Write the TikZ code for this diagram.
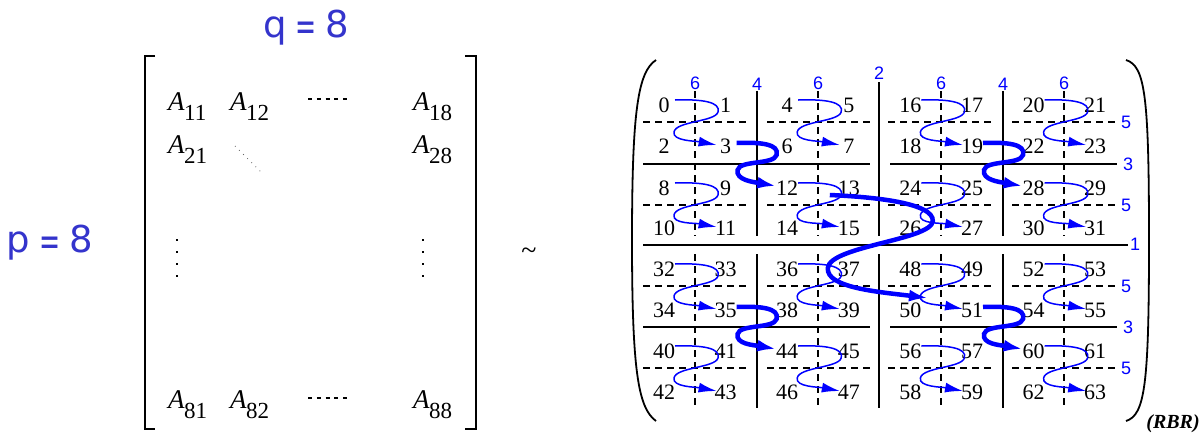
\documentclass[tikz,border=0pt]{standalone}
\usepackage{fontspec}
\setmainfont{Liberation Serif}
\newfontfamily\lsans{Liberation Sans}
\newfontfamily\dvsans{DejaVu Sans}
\usetikzlibrary{arrows.meta,calc}
\definecolor{qblue}{RGB}{52,52,204}
\newcommand\Aent[1]{{\fontsize{27}{27}\selectfont\itshape A}\kern-0.5pt\raisebox{-10pt}{\fontsize{23}{23}\selectfont #1}}
\newcommand\eqlab[1]{#1\hspace{9pt}\raisebox{-3pt}{\scalebox{0.68}[1.1]{=}}\hspace{9pt}8}
\newcommand\thinsnake[2]{\draw[snakethin] ($(#1)+(11,-5)$) .. controls ($(#1)+(38,-6)$) and ($(#1)+(57,-3)$) .. ($(#1)+(54,7)$) .. controls ($(#1)+(51,17)$) and ($(#1)+(12,16)$) .. ($(#1)+(10,27)$) .. controls ($(#1)+(8,36)$) and ($(#2)+(-30,-5)$) .. ($(#2)+(-9,-1)$);}
\newcommand\thicksnake[2]{\draw[snakethick] ($(#1)+(11,-3)$) .. controls ($(#1)+(35,-4)$) and ($(#1)+(54,-2)$) .. ($(#1)+(51,9)$) .. controls ($(#1)+(48,19)$) and ($(#1)+(14,14)$) .. ($(#1)+(12,24)$) .. controls ($(#1)+(10,34)$) and ($(#2)+(-34,-6)$) .. ($(#2)+(-11,-2)$);}
\begin{document}
\begin{tikzpicture}[x=1pt,y=-1pt,
  num/.style={inner sep=0pt, font=\fontsize{22}{22}\selectfont},
  anode/.style={anchor=base west, inner sep=0pt},
  lab/.style={inner sep=0pt, text=blue, font=\lsans\fontsize{18}{18}\selectfont},
  pq/.style={inner sep=0pt, anchor=base west, text=qblue, font=\dvsans\fontsize{37}{37}\selectfont},
  brk/.style={line width=2pt, line join=miter},
  hdots/.style={line width=1.3pt, dash pattern=on 4pt off 4.75pt},
  vdots/.style={line width=1.8pt, dash pattern=on 2pt off 10pt},
  ddots/.style={line width=0.8pt, black!60, dash pattern=on 0.8pt off 5pt},
  dsh/.style={line width=1.5pt, dash pattern=on 7pt off 5pt},
  sol/.style={line width=2pt},
  paren/.style={line width=1.8pt},
  snakethin/.style={draw=blue, line width=1.5pt, -{Latex[length=18pt,width=10pt]}},
  snakethick/.style={draw=blue, line width=4.5pt, -{Latex[length=19pt,width=12pt]}}]
\useasboundingbox (0,0) rectangle (1201,434);

% ---------- left matrix ----------
\node[pq] (qlab) at (263,37) {\eqlab{q}};
\node[pq] (plab) at (6.6,252) {\eqlab{p}};
\draw[brk] (155,56) -- (145,56) -- (145,429) -- (155,429);
\draw[brk] (465,56) -- (476,56) -- (476,429) -- (465,429);
\node[anode] (a11) at (168,110) {\Aent{11}};
\node[anode] (a12) at (230,110) {\Aent{12}};
\node[anode] (a18) at (413,110) {\Aent{18}};
\node[anode] (a21) at (168,153) {\Aent{21}};
\node[anode] (a28) at (413,153) {\Aent{28}};
\node[anode] (a81) at (168,408) {\Aent{81}};
\node[anode] (a82) at (230,408) {\Aent{82}};
\node[anode] (a88) at (413,408) {\Aent{88}};
\draw[hdots] (308,99) -- (347,99);
\draw[hdots] (308,398) -- (347,398);
\draw[vdots] (177,239) -- (177,277);
\draw[vdots] (423,239) -- (423,277);
\draw[ddots] (235,146) -- (261,172);
\node[inner sep=0pt, font=\fontsize{28}{28}\selectfont] (tl) at (529,254) {\textasciitilde};

% ---------- right matrix: parentheses ----------
\draw[paren] (656,60) .. controls (638,72) and (632,110) .. (632,240) .. controls (632,370) and (638,408) .. (656,421);
\draw[paren] (1126,60) .. controls (1145,66) and (1149,95) .. (1149,240) .. controls (1149,385) and (1145,415) .. (1126,421);
\node[inner sep=0pt, font=\fontsize{20}{20}\selectfont\bfseries\itshape] (rbr) at (1173,424) {(RBR)};

% ---------- grid ----------
\foreach \yy in {122,205,286,368}
  \foreach \xa/\xb in {643/748,767/870,888/993,1012/1117}
    \draw[dsh] (\xa,\yy) -- (\xb,\yy);
\foreach \yy in {164,327} {
  \draw[sol] (643,\yy) -- (870,\yy);
  \draw[sol] (890,\yy) -- (1117,\yy);
}
\draw[sol] (643,245) -- (1128,245);
\foreach \xx in {695,818,941,1064} {
  \draw[dsh] (\xx,91) -- (\xx,236);
  \draw[dsh] (\xx,254) -- (\xx,408);
}
\foreach \xx in {757,1003} {
  \draw[sol] (\xx,91) -- (\xx,236);
  \draw[sol] (\xx,254) -- (\xx,408);
}
\draw[sol] (879,82) -- (879,236);
\draw[sol] (879,254) -- (879,408);

% ---------- level labels ----------
\node[lab] (l6a) at (695,83) {6};
\node[lab] (l4a) at (757,84) {4};
\node[lab] (l6b) at (818,83) {6};
\node[lab] (l2) at (879,73) {2};
\node[lab] (l6c) at (941,83) {6};
\node[lab] (l4b) at (1003,84) {4};
\node[lab] (l6d) at (1064,83) {6};
\node[lab] (r5a) at (1126,122) {5};
\node[lab] (r3a) at (1128,164) {3};
\node[lab] (r5b) at (1126,205) {5};
\node[lab] (r1) at (1135,244) {1};
\node[lab] (r5c) at (1126,286) {5};
\node[lab] (r3b) at (1128,327) {3};
\node[lab] (r5d) at (1126,368) {5};

% ---------- numbers ----------
\foreach \v [count=\c from 0] in {0,1,4,5,16,17,20,21}
  \node[num] (n\v) at ({664+61.6*\c},105) {\v};
\foreach \v [count=\c from 0] in {2,3,6,7,18,19,22,23}
  \node[num] (n\v) at ({664+61.6*\c},146) {\v};
\foreach \v [count=\c from 0] in {8,9,12,13,24,25,28,29}
  \node[num] (n\v) at ({664+61.6*\c},188) {\v};
\foreach \v [count=\c from 0] in {10,11,14,15,26,27,30,31}
  \node[num] (n\v) at ({664+61.6*\c},228) {\v};
\foreach \v [count=\c from 0] in {32,33,36,37,48,49,52,53}
  \node[num] (n\v) at ({664+61.6*\c},269) {\v};
\foreach \v [count=\c from 0] in {34,35,38,39,50,51,54,55}
  \node[num] (n\v) at ({664+61.6*\c},310) {\v};
\foreach \v [count=\c from 0] in {40,41,44,45,56,57,60,61}
  \node[num] (n\v) at ({664+61.6*\c},351) {\v};
\foreach \v [count=\c from 0] in {42,43,46,47,58,59,62,63}
  \node[num] (n\v) at ({664+61.6*\c},392) {\v};

% ---------- snakes ----------
\foreach \a/\b in {0/3,4/7,16/19,20/23,8/11,12/15,24/27,28/31,32/35,36/39,48/51,52/55,40/43,44/47,56/59,60/63}
  \thinsnake{n\a}{n\b};
\foreach \a/\b in {3/12,19/28,35/44,51/60}
  \thicksnake{n\a}{n\b};
\draw[snakethick] ($(n13)+(-19,7)$) .. controls ($(n13)+(26,9)$) and ($(n13)+(85,15)$) .. ($(n13)+(84,33)$) .. controls ($(n13)+(83,52)$) and ($(n13)+(-19,58)$) .. ($(n13)+(-21,80)$) .. controls ($(n51)+(-146,-22)$) and ($(n51)+(-92,-18)$) .. ($(n51)+(-44,-12)$);
\end{tikzpicture}
\end{document}
